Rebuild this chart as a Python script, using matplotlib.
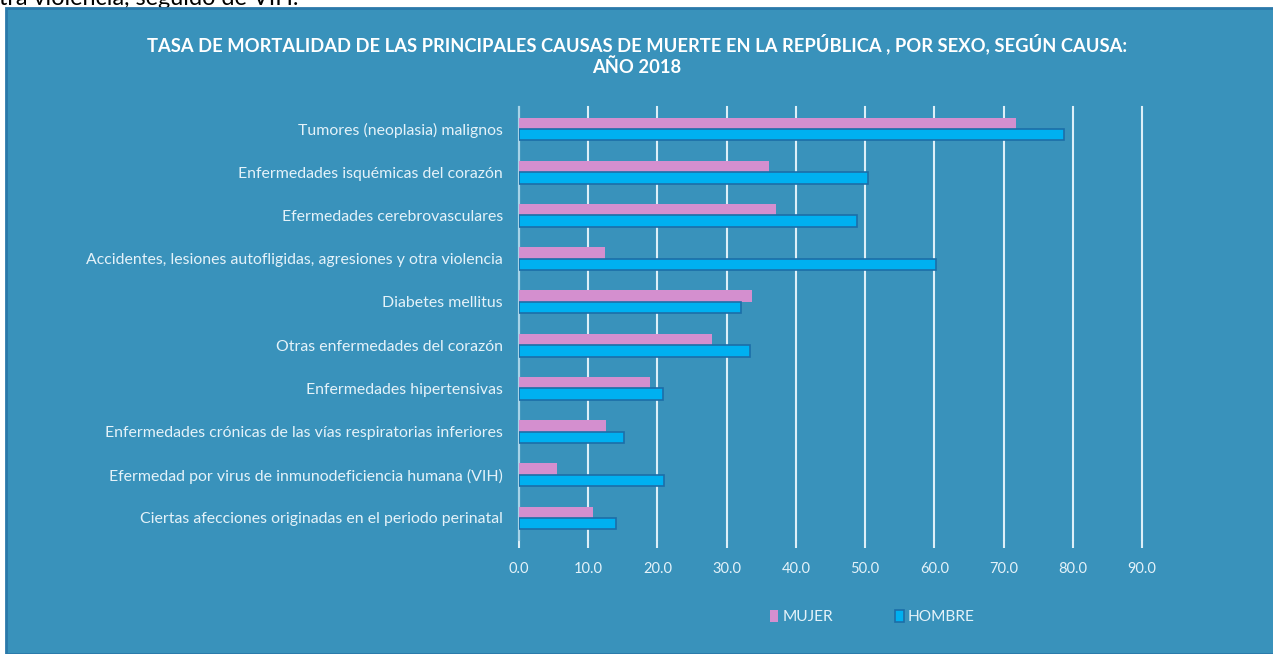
import matplotlib
matplotlib.use("Agg")
import matplotlib.pyplot as plt
import numpy as np
from matplotlib.patches import Rectangle

categories = [
    "Tumores (neoplasia) malignos",
    "Enfermedades isquémicas del corazón",
    "Efermedades cerebrovasculares",
    "Accidentes, lesiones autofligidas, agresiones y otra violencia",
    "Diabetes mellitus",
    "Otras enfermedades del corazón",
    "Enfermedades hipertensivas",
    "Enfermedades crónicas de las vías respiratorias inferiores",
    "Efermedad por virus de inmunodeficiencia humana (VIH)",
    "Ciertas afecciones originadas en el periodo perinatal",
]
mujer = [71.8, 36.1, 37.1, 12.4, 33.6, 27.9, 18.9, 12.5, 5.5, 10.7]
hombre = [78.8, 50.4, 48.8, 60.3, 32.1, 33.3, 20.8, 15.2, 20.9, 14.0]
xticks = [0, 10, 20, 30, 40, 50, 60, 70, 80, 90]
title = ("TASA DE MORTALIDAD DE LAS PRINCIPALES CAUSAS DE MUERTE EN LA REPÚBLICA , POR SEXO, SEGÚN CAUSA:\n"
         "AÑO 2018")
top_text = "tra violencia, seguido de VIH."

BG = "#3992BB"
PINK = "#D48FCF"
BLUE = "#00B0F0"
BLUE_EDGE = "#1C6EA8"
TXT = "#E4F2F9"
FONT = ["Lato", "DejaVu Sans"]

W, H = 1273, 654
fig = plt.figure(figsize=(W / 100, H / 100), dpi=100)
fig.patch.set_facecolor("white")

# cropped document text at top
fig.text(-0.001, 1 - 5.0 / H, top_text, fontsize=16.8, color="black",
         family=FONT, va="baseline", ha="left", zorder=0)

# blue chart box
fig.patches.append(Rectangle((6 / W, 0), 1 - 6 / W + 0.01, 1 - 8 / H, transform=fig.transFigure,
                             facecolor=BG, edgecolor="#2A79AA", linewidth=2, zorder=1))

ax = fig.add_axes([519 / W, 114.4 / H, 623 / W, 432.2 / H], zorder=2)
ax.set_facecolor("none")

y = np.arange(len(categories))
bw = 0.265
ax.barh(y - bw / 2, mujer, height=bw, color=PINK, edgecolor=PINK, linewidth=0, zorder=3, label="MUJER")
ax.barh(y + bw / 2, hombre, height=bw, color=BLUE, edgecolor=BLUE_EDGE, linewidth=1.2, zorder=3, label="HOMBRE")

ax.set_ylim(len(categories) - 0.5, -0.5)
ax.set_xlim(0, 90)
ax.set_xticks(xticks)
ax.set_xticklabels([f"{v:.1f}" for v in xticks], family=FONT, fontsize=10.5, color=TXT)
ax.set_yticks(y)
ax.set_yticklabels(categories, family=FONT, fontsize=11.4, color=TXT)
ax.tick_params(axis="y", length=0, pad=11.5)
ax.tick_params(axis="x", length=6, width=1.5, color="#DDEFF8", pad=10, direction="out")
ax.grid(axis="x", color="#DDEFF8", linewidth=1.5, zorder=1)
for gl in ax.get_xgridlines():
    gl.set_clip_on(False)
ax.set_axisbelow(True)
for s in ["top", "right", "bottom"]:
    ax.spines[s].set_visible(False)
ax.spines["left"].set_color("#A8D3E8")
ax.spines["left"].set_linewidth(1.5)

fig.text(637 / W, 1 - 55 / H, title, ha="center", va="center", fontsize=13.2, fontweight="bold",
         color="white", family=FONT, linespacing=1.25, zorder=3)

leg = fig.legend(loc="center", bbox_to_anchor=(872 / W, 37 / H), ncol=2, frameon=False,
                 handlelength=0.55, handleheight=0.8, handletextpad=0.25, columnspacing=4.0,
                 prop={"family": FONT, "size": 11.2})
for t in leg.get_texts():
    t.set_color(TXT)

fig.savefig("out.png", dpi=100, facecolor=fig.get_facecolor())
